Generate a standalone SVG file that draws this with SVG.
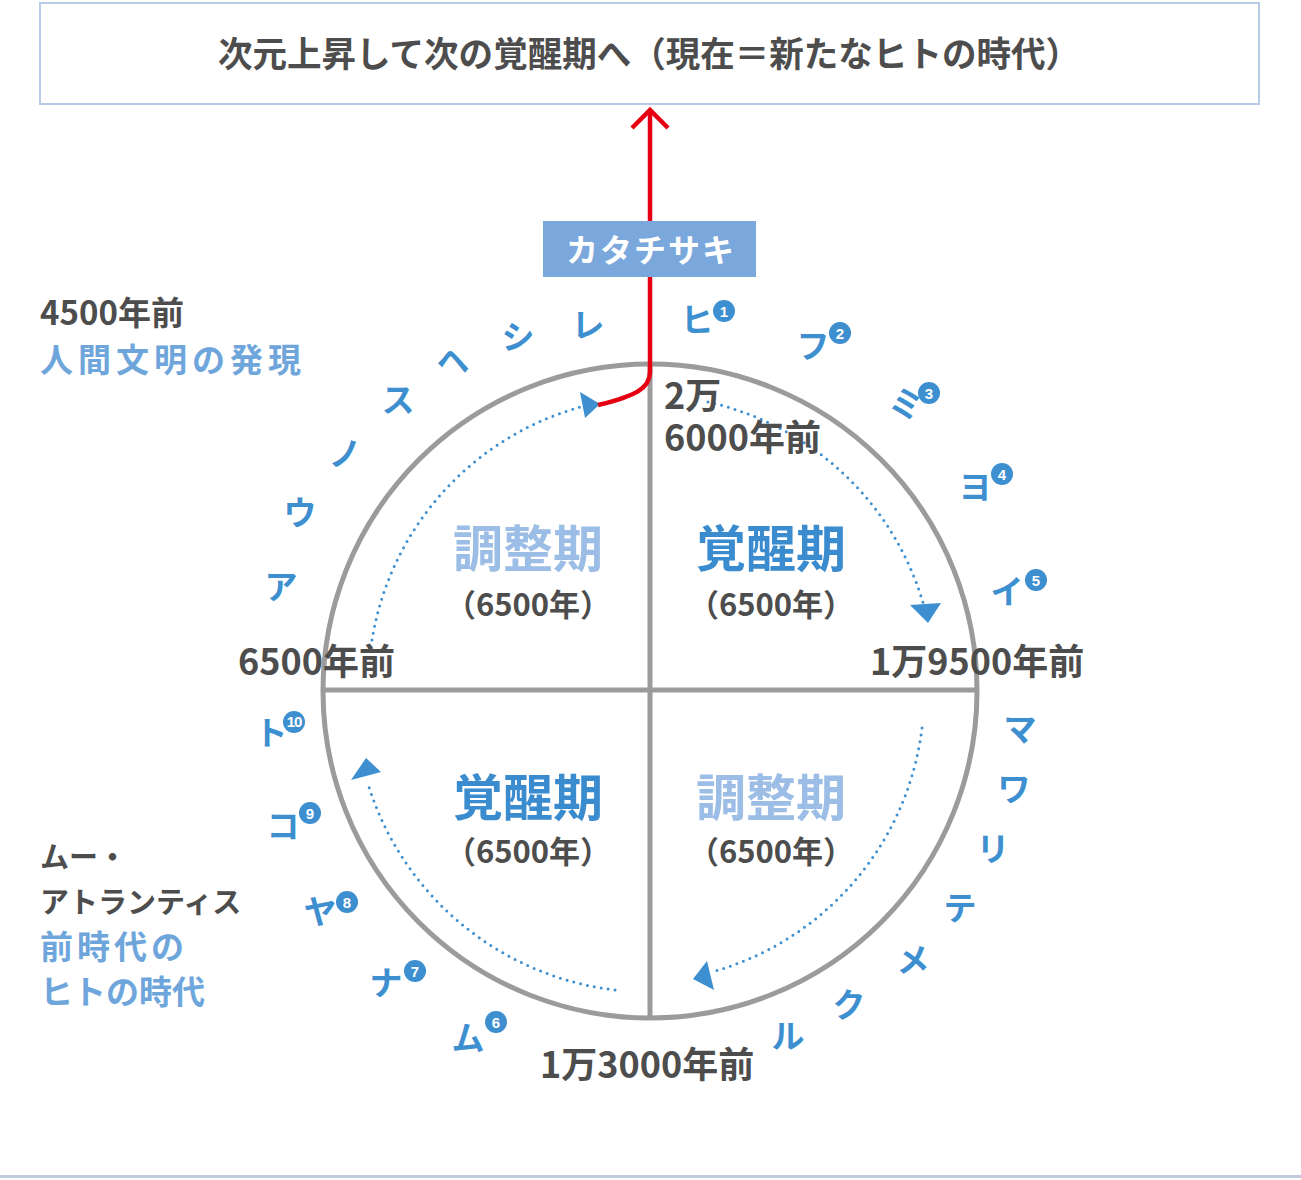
<svg xmlns="http://www.w3.org/2000/svg" width="1301" height="1180" viewBox="0 0 1301 1180">
<defs>
<style>
text{font-family:"Noto Sans CJK JP","Noto Sans",sans-serif;font-weight:700}
.kana{font-size:33px;fill:#3d8fd0;text-anchor:middle}
.num{font-size:15px;fill:#fff;text-anchor:middle;font-family:"Liberation Sans",sans-serif}
.badge{fill:#3d8fd0}
.time{font-size:36px;fill:#4d4d4d}
.big{font-size:50px;text-anchor:middle}
.kakusei{fill:#3b8ccf}
.chosei{fill:#9cbde6}
.dur{font-size:31px;fill:#4d4d4d;text-anchor:middle}
.side{font-size:33px}
.dot{fill:none;stroke:#3d8fd0;stroke-width:3;stroke-linecap:round;stroke-dasharray:0 7}
.tri{fill:#3d8fd0}
.frame{fill:none;stroke:#9b9b9b;stroke-width:5}
</style>
</defs>
<rect width="1301" height="1180" fill="#ffffff"/>
<line x1="0" y1="1176.5" x2="1301" y2="1176.5" stroke="#c0c9df" stroke-width="3"/>

<g id="title">
<rect x="40" y="3" width="1219" height="101" fill="#ffffff" stroke="#b8cae6" stroke-width="2"/>
<text x="649" y="67" font-size="35" fill="#4d4d4d" text-anchor="middle" textLength="862" lengthAdjust="spacingAndGlyphs">次元上昇して次の覚醒期へ（現在＝新たなヒトの時代）</text>
</g>

<g id="cycle">
<circle cx="650" cy="691" r="327" class="frame"/>
<line x1="650" y1="364" x2="650" y2="1018" class="frame"/>
<line x1="323" y1="690" x2="977" y2="690" class="frame"/>
</g>

<g id="connectors">
<path d="M372 640 A290 290 0 0 1 588 405" class="dot"/>
<polygon points="580,392 600,404 585,418" class="tri"/>
<path d="M708 402 A290 290 0 0 1 924 606" class="dot"/>
<polygon points="910,605 941,603 928,623" class="tri"/>
<path d="M922 728 A290 290 0 0 1 712 972" class="dot"/>
<polygon points="693,979 707,961 714,990" class="tri"/>
<path d="M615 990 A295 295 0 0 1 368 784" class="dot"/>
<polygon points="366,758 351,780 381,772" class="tri"/>
<path d="M650 372 C650 388 636 396 598 405" fill="none" stroke="#e60012" stroke-width="4.5"/>
<line x1="650" y1="110" x2="650" y2="373" stroke="#e60012" stroke-width="4.5"/>
<polyline points="632,128 650,110 668,128" fill="none" stroke="#e60012" stroke-width="4.5"/>
</g>

<g id="katachisaki">
<rect x="543" y="221" width="213" height="56" fill="#7aa8dc"/>
<text x="651" y="262" font-size="32" fill="#ffffff" text-anchor="middle" letter-spacing="2">カタチサキ</text>
</g>

<g id="quadrants">
<g id="q-ul"><text x="528" y="567" class="big chosei">調整期</text><text x="528" y="616" class="dur">（6500年）</text></g>
<g id="q-ur"><text x="771" y="567" class="big kakusei">覚醒期</text><text x="771" y="616" class="dur">（6500年）</text></g>
<g id="q-ll"><text x="528" y="816" class="big kakusei">覚醒期</text><text x="528" y="863" class="dur">（6500年）</text></g>
<g id="q-lr"><text x="771" y="816" class="big chosei">調整期</text><text x="771" y="863" class="dur">（6500年）</text></g>
</g>

<g id="times">
<text x="664" y="409" class="time">2万</text>
<text x="664" y="451" class="time">6000年前</text>
<text x="238" y="675" class="time">6500年前</text>
<text x="870" y="675" class="time">1万9500年前</text>
<text x="540" y="1078" class="time">1万3000年前</text>
</g>

<g id="side-labels">
<text x="40" y="325" class="side" fill="#4d4d4d">4500年前</text>
<text x="40" y="372" class="side" fill="#6ea6dc" letter-spacing="5">人間文明の発現</text>
<text x="40" y="868" font-size="29" fill="#4d4d4d">ムー・</text>
<text x="40" y="913" font-size="29" fill="#4d4d4d">アトランティス</text>
<text x="40" y="959" class="side" fill="#6ea6dc" letter-spacing="4">前時代の</text>
<text x="40" y="1004" class="side" fill="#6ea6dc">ヒトの時代</text>
</g>

<g id="kana-ring">
<text x="588" y="337" class="kana">レ</text>
<text x="518" y="349" class="kana">シ</text>
<text x="453" y="373" class="kana">ヘ</text>
<text x="398" y="412" class="kana">ス</text>
<text x="345" y="466" class="kana">ノ</text>
<text x="300" y="525" class="kana">ウ</text>
<text x="281" y="599" class="kana">ア</text>
<text x="697" y="332" class="kana">ヒ</text>
<text x="813" y="358" class="kana">フ</text>
<text x="906" y="416" class="kana" transform="rotate(18 906 404)">ミ</text>
<text x="975" y="499" class="kana">ヨ</text>
<text x="1007" y="604" class="kana">イ</text>
<text x="1020" y="741" class="kana">マ</text>
<text x="1014" y="801" class="kana">ワ</text>
<text x="993" y="861" class="kana">リ</text>
<text x="960" y="920" class="kana">テ</text>
<text x="913" y="972" class="kana">メ</text>
<text x="849" y="1017" class="kana">ク</text>
<text x="788" y="1048" class="kana">ル</text>
<text x="468" y="1050" class="kana">ム</text>
<text x="386" y="995" class="kana">ナ</text>
<text x="320" y="924" class="kana">ヤ</text>
<text x="283" y="838" class="kana">コ</text>
<text x="271" y="745" class="kana">ト</text>
</g>

<g id="badges">
<circle cx="724" cy="311" r="11" class="badge"/><text x="724" y="316.5" class="num">1</text>
<circle cx="840" cy="333" r="11" class="badge"/><text x="840" y="338.5" class="num">2</text>
<circle cx="929" cy="393" r="11" class="badge"/><text x="929" y="398.5" class="num">3</text>
<circle cx="1002" cy="474" r="11" class="badge"/><text x="1002" y="479.5" class="num">4</text>
<circle cx="1036" cy="580" r="11" class="badge"/><text x="1036" y="585.5" class="num">5</text>
<circle cx="496" cy="1022" r="11" class="badge"/><text x="496" y="1027.5" class="num">6</text>
<circle cx="415" cy="971" r="11" class="badge"/><text x="415" y="976.5" class="num">7</text>
<circle cx="347" cy="902" r="11" class="badge"/><text x="347" y="907.5" class="num">8</text>
<circle cx="310" cy="813" r="11" class="badge"/><text x="310" y="818.5" class="num">9</text>
<circle cx="294" cy="722" r="11" class="badge"/><text x="294" y="727" class="num" font-size="13" letter-spacing="-1">10</text>
</g>
</svg>
